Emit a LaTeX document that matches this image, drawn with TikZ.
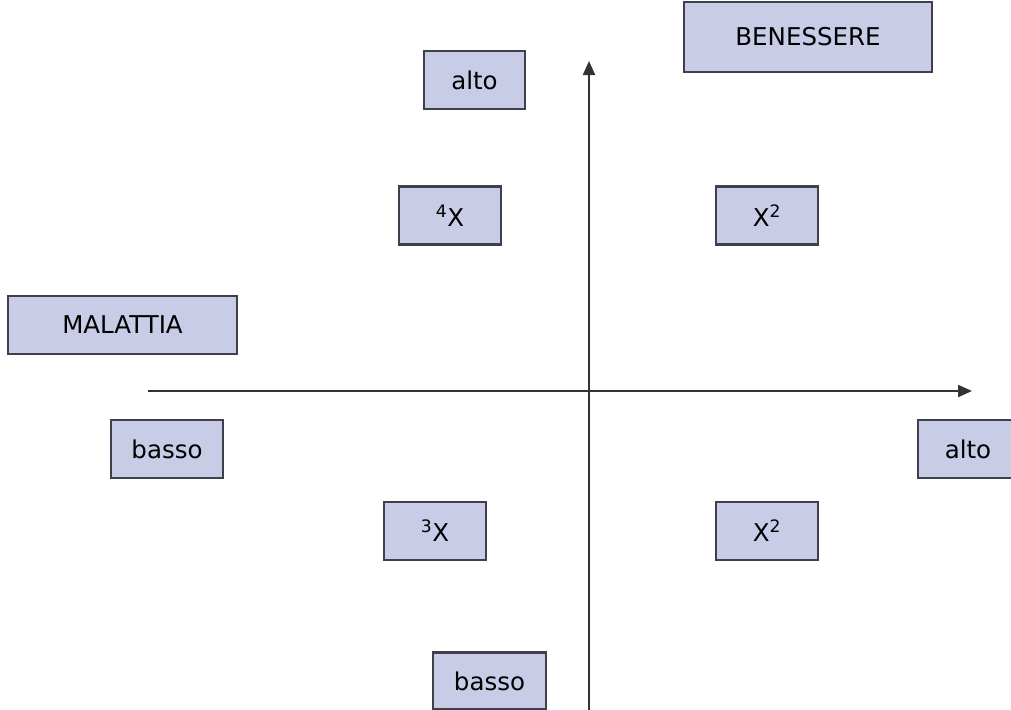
\documentclass[tikz,border=0pt]{standalone}
\usepackage{fontspec}
\setmainfont{DejaVu Sans}
\usetikzlibrary{arrows.meta}
\definecolor{boxfill}{RGB}{201,204,230}
\definecolor{boxline}{RGB}{64,64,76}
\begin{document}
\begin{tikzpicture}[
  x = 1pt, y = -1pt,
  box/.style = {draw = boxline, line width = 2.4pt, fill = boxfill,
                minimum height = 58pt, inner sep = 0pt,
                font = \fontsize{24.5}{29}\selectfont},
  axis/.style = {draw = black!80, line width = 2.2pt,
                 -{Triangle[length = 14pt, width = 12pt]}}
  ]
  \useasboundingbox (0,0) rectangle (1011,709);
  \node[box, minimum width = 248pt, minimum height = 70pt] (wellbeing) at (808,37) {BENESSERE};
  \node[box, minimum width = 101pt] (hightop) at (474.5,80) {alto};
  \node[box, minimum width = 102pt] (xfour) at (450,215.5) {\textsuperscript{4}X};
  \node[box, minimum width = 102pt] (xtwotop) at (767,215.5) {X\textsuperscript{2}};
  \node[box, minimum width = 229pt] (illness) at (122.5,325) {MALATTIA};
  \node[box, minimum width = 112pt] (lowleft) at (167,449) {basso};
  \node[box, minimum width = 100pt] (highright) at (968,449) {alto};
  \node[box, minimum width = 102pt] (xthree) at (435,531) {\textsuperscript{3}X};
  \node[box, minimum width = 102pt] (xtwobot) at (767,531) {X\textsuperscript{2}};
  \node[box, minimum width = 113pt, minimum height = 57pt] (lowbot) at (489.5,681) {basso};
  % axes
  \coordinate (xstart) at (148,391);
  \coordinate (xend) at (972,391);
  \coordinate (ystart) at (589,712);
  \coordinate (yend) at (589,61);
  \draw[axis] (xstart) -- (xend);
  \draw[axis] (ystart) -- (yend);
\end{tikzpicture}
\end{document}
